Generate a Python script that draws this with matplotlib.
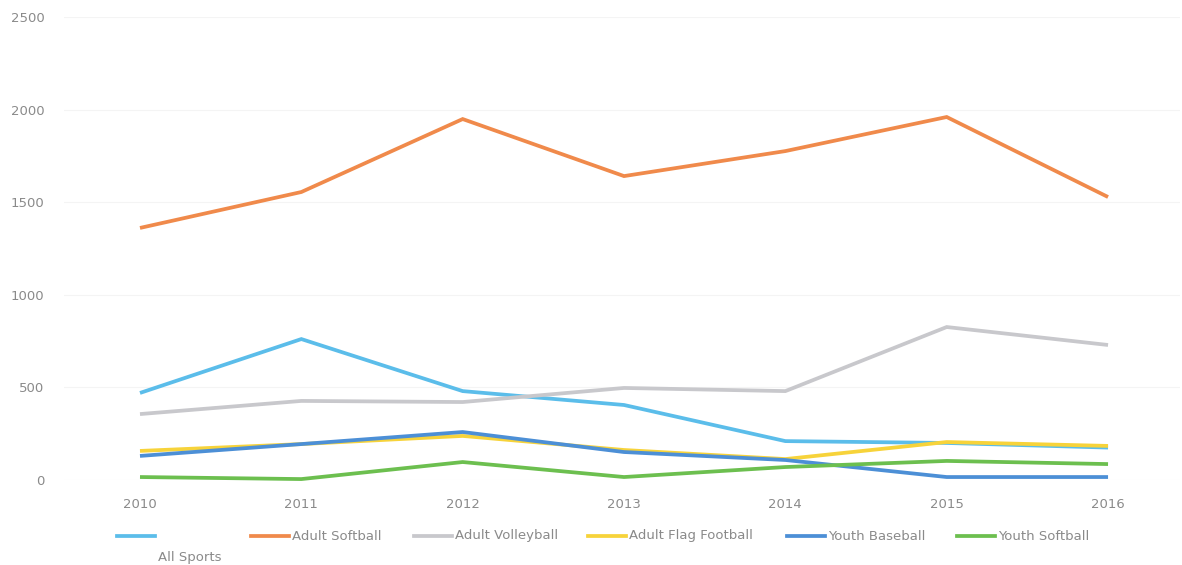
import matplotlib.pyplot as plt
from matplotlib.lines import Line2D

years = [2010, 2011, 2012, 2013, 2014, 2015, 2016]

all_sports = [470, 761, 480, 405, 210, 200, 175]
adult_softball = [1361, 1555, 1949, 1641, 1776, 1960, 1528]
adult_volleyball = [356, 427, 421, 497, 480, 826, 729]
adult_flag_football = [157, 194, 238, 162, 113, 205, 184]
youth_baseball = [130, 194, 259, 151, 108, 16, 16]
youth_softball = [16, 5, 97, 16, 70, 103, 86]

series = [
    ("All Sports", all_sports, "#5bbdea"),
    ("Adult Softball", adult_softball, "#f08a4b"),
    ("Adult Volleyball", adult_volleyball, "#c8c8cc"),
    ("Adult Flag Football", adult_flag_football, "#f7d33a"),
    ("Youth Baseball", youth_baseball, "#4c8fd6"),
    ("Youth Softball", youth_softball, "#6cbf4f"),
]

plt.rcParams['font.family'] = ['Liberation Sans Narrow', 'DejaVu Sans']

W, H = 1182, 565
fig = plt.figure(figsize=(W / 100, H / 100), dpi=100)
ax = fig.add_axes([64 / W, (H - 480) / H, (1180 - 64) / W, (480 - 17) / H])

for name, vals, col in series:
    ax.plot(years, vals, color=col, lw=2.7, solid_joinstyle='miter',
            solid_capstyle='butt', clip_on=False)

ax.set_xlim(2010 - 0.471, 2016 + 0.446)
ax.set_ylim(0, 2500)
ax.set_yticks(range(0, 2501, 500))
ax.set_xticks(years)
ax.grid(axis='y', color='#f4f4f4', lw=0.8)
ax.set_axisbelow(True)
for s in ax.spines.values():
    s.set_visible(False)
ax.tick_params(length=0, colors='#8a8a8a', labelsize=9.5)
ax.tick_params(axis='y', pad=14)
ax.tick_params(axis='x', pad=13)

# legend row along the bottom
handle_x = [117, 251, 414, 588, 787, 957]
row_y = 1 - 536 / H
for (name, vals, col), hx in zip(series, handle_x):
    fig.add_artist(Line2D([hx / W, (hx + 38) / W], [row_y, row_y],
                          color=col, lw=2.7, transform=fig.transFigure))
    if name == "All Sports":
        fig.text(158 / W, 1 - 557 / H, name, color='#8a8a8a', fontsize=9.5,
                 va='center')
    else:
        fig.text((hx + 41) / W, row_y, name, color='#8a8a8a', fontsize=9.5,
                 va='center')

fig.savefig("out.png", dpi=100, facecolor='white')
